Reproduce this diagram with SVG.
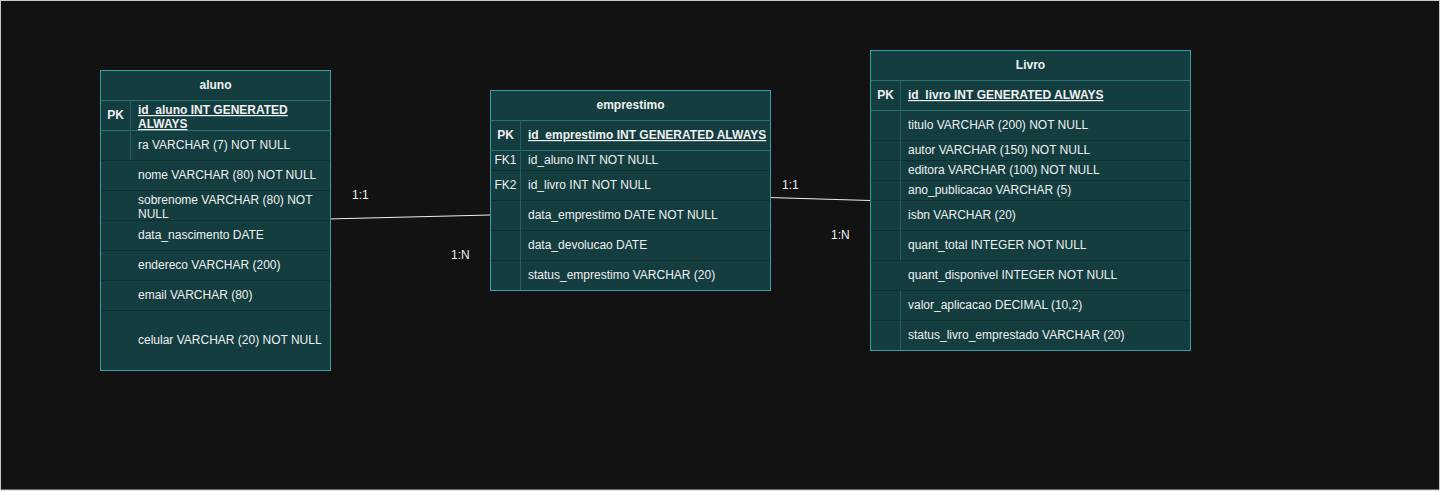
<svg xmlns="http://www.w3.org/2000/svg" width="1441" height="492" viewBox="0 0 1441 492">
<style>
.tbl{fill:#133d3f;stroke:#3a9fa3;stroke-width:1}
.hl{stroke:#2a7275;stroke-width:1;fill:none}
.rl{stroke:#0c3032;stroke-width:1;fill:none}
.kd{stroke:#245f62;stroke-width:1;fill:none}
text{font-family:"Liberation Sans",Arial,Helvetica,sans-serif;font-size:12px;fill:#f0f0f0}
.h{font-weight:bold;text-anchor:middle}
.k{font-weight:bold;text-anchor:middle}
.pk{font-weight:bold;text-decoration:underline}
.conn{stroke:#eeeeee;stroke-width:1;fill:none}
</style>
<rect x="0" y="0" width="1441" height="492" fill="#ffffff"/>
<rect x="0.5" y="0.5" width="1439" height="489.5" fill="#121212" stroke="#c8c8c8" stroke-width="1"/>

<g id="connectors">
<line class="conn" x1="327" y1="219" x2="490" y2="215"/>
<line class="conn" x1="769" y1="197.5" x2="870" y2="200.5"/>
<text x="352" y="199">1:1</text>
<text x="451" y="259">1:N</text>
<text x="782" y="189">1:1</text>
<text x="831" y="239">1:N</text>
</g>

<g id="aluno">
<rect class="tbl" x="100.5" y="70.5" width="230" height="300"/>
<line class="hl" x1="100.5" y1="100.5" x2="330.5" y2="100.5"/>
<line class="hl" x1="100.5" y1="130.5" x2="330.5" y2="130.5"/>
<line class="rl" x1="101" y1="160.5" x2="330" y2="160.5"/>
<line class="rl" x1="101" y1="190.5" x2="330" y2="190.5"/>
<line class="rl" x1="101" y1="220.5" x2="330" y2="220.5"/>
<line class="rl" x1="101" y1="250.5" x2="330" y2="250.5"/>
<line class="rl" x1="101" y1="280.5" x2="330" y2="280.5"/>
<line class="rl" x1="101" y1="310.5" x2="330" y2="310.5"/>
<line class="kd" x1="130.5" y1="100.5" x2="130.5" y2="160"/>
<text class="h" x="215.5" y="89">aluno</text>
<text class="k" x="115.5" y="119">PK</text>
<text class="pk" x="138" y="114">id_aluno INT GENERATED</text>
<text class="pk" x="138" y="128">ALWAYS</text>
<text x="138" y="149">ra VARCHAR (7) NOT NULL</text>
<text x="138" y="179">nome VARCHAR (80) NOT NULL</text>
<text x="138" y="204">sobrenome VARCHAR (80) NOT</text>
<text x="138" y="218">NULL</text>
<text x="138" y="239">data_nascimento DATE</text>
<text x="138" y="269">endereco VARCHAR (200)</text>
<text x="138" y="299">email VARCHAR (80)</text>
<text x="138" y="344">celular VARCHAR (20) NOT NULL</text>
</g>

<g id="emprestimo">
<rect class="tbl" x="490.5" y="90.5" width="280" height="200"/>
<line class="hl" x1="490.5" y1="120.5" x2="770.5" y2="120.5"/>
<line class="hl" x1="490.5" y1="150.5" x2="770.5" y2="150.5"/>
<line class="rl" x1="491" y1="170.5" x2="770" y2="170.5"/>
<line class="rl" x1="491" y1="200.5" x2="770" y2="200.5"/>
<line class="rl" x1="491" y1="230.5" x2="770" y2="230.5"/>
<line class="rl" x1="491" y1="260.5" x2="770" y2="260.5"/>
<line class="kd" x1="520.5" y1="120.5" x2="520.5" y2="290"/>
<text class="h" x="630.5" y="109">emprestimo</text>
<text class="k" x="505.5" y="139">PK</text>
<text class="pk" x="528" y="139">id_emprestimo INT GENERATED ALWAYS</text>
<text class="k" x="505.5" y="164" style="font-weight:normal">FK1</text>
<text x="528" y="164">id_aluno INT NOT NULL</text>
<text class="k" x="505.5" y="189" style="font-weight:normal">FK2</text>
<text x="528" y="189">id_livro INT NOT NULL</text>
<text x="528" y="219">data_emprestimo DATE NOT NULL</text>
<text x="528" y="249">data_devolucao DATE</text>
<text x="528" y="279">status_emprestimo VARCHAR (20)</text>
</g>

<g id="livro">
<rect class="tbl" x="870.5" y="50.5" width="320" height="300"/>
<line class="hl" x1="870.5" y1="80.5" x2="1190.5" y2="80.5"/>
<line class="hl" x1="870.5" y1="110.5" x2="1190.5" y2="110.5"/>
<line class="rl" x1="871" y1="140.5" x2="1190" y2="140.5"/>
<line class="rl" x1="871" y1="160.5" x2="1190" y2="160.5"/>
<line class="rl" x1="871" y1="180.5" x2="1190" y2="180.5"/>
<line class="rl" x1="871" y1="200.5" x2="1190" y2="200.5"/>
<line class="rl" x1="871" y1="230.5" x2="1190" y2="230.5"/>
<line class="rl" x1="871" y1="260.5" x2="1190" y2="260.5"/>
<line class="rl" x1="871" y1="290.5" x2="1190" y2="290.5"/>
<line class="rl" x1="871" y1="320.5" x2="1190" y2="320.5"/>
<line class="kd" x1="900.5" y1="80.5" x2="900.5" y2="260"/>
<line class="kd" x1="900.5" y1="290.5" x2="900.5" y2="350"/>
<text class="h" x="1030.5" y="69">Livro</text>
<text class="k" x="885.5" y="99">PK</text>
<text class="pk" x="908" y="99">id_livro INT GENERATED ALWAYS</text>
<text x="908" y="129">titulo VARCHAR (200) NOT NULL</text>
<text x="908" y="154">autor VARCHAR (150) NOT NULL</text>
<text x="908" y="174">editora VARCHAR (100) NOT NULL</text>
<text x="908" y="194">ano_publicacao VARCHAR (5)</text>
<text x="908" y="219">isbn VARCHAR (20)</text>
<text x="908" y="249">quant_total INTEGER NOT NULL</text>
<text x="908" y="279">quant_disponivel INTEGER NOT NULL</text>
<text x="908" y="309">valor_aplicacao DECIMAL (10,2)</text>
<text x="908" y="339">status_livro_emprestado VARCHAR (20)</text>
</g>
</svg>
